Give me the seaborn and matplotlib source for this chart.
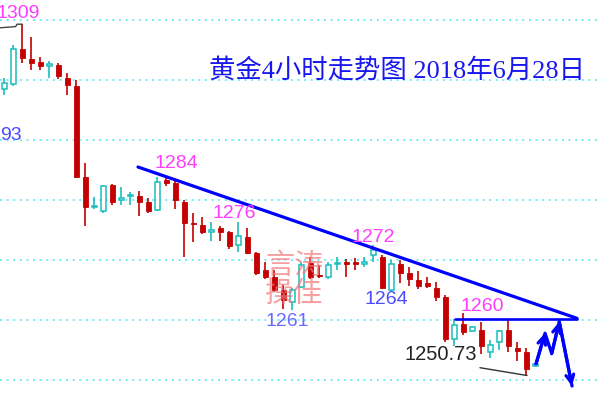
import numpy as np
import pandas as pd
import matplotlib
matplotlib.use("Agg")
import matplotlib.pyplot as plt
import seaborn as sns

# ---------------- data (4h gold candles) ----------------
opens = [1298.5, 1299.3, 1305.2, 1303.5, 1303.0, 1302.4, 1302.5, 1300.3, 1299.0, 1283.8,
         1278.8, 1278.2, 1282.5, 1280.0, 1280.6, 1280.6, 1279.6, 1278.3, 1283.3, 1282.9,
         1279.7, 1276.2, 1275.8, 1274.7, 1275.3, 1274.6, 1272.5, 1273.9, 1271.1, 1268.3,
         1267.2, 1265.0, 1263.0, 1265.5, 1269.5, 1267.5, 1267.2, 1269.3, 1269.7, 1269.6,
         1269.4, 1270.8, 1270.5, 1265.0, 1269.4, 1267.9, 1266.7, 1266.2, 1265.3, 1263.9,
         1256.9, 1259.4, 1258.1, 1258.4, 1254.7, 1256.4, 1258.4, 1255.3, 1254.7, 1252.4]
closes = [1299.5, 1305.2, 1303.7, 1302.8, 1302.3, 1302.6, 1300.6, 1299.2, 1283.9, 1278.9,
          1279.0, 1282.3, 1279.7, 1280.3, 1280.8, 1279.6, 1278.2, 1283.0, 1282.8, 1280.0,
          1276.2, 1276.0, 1274.6, 1275.0, 1274.6, 1272.3, 1274.0, 1271.1, 1267.8, 1267.2,
          1265.0, 1263.3, 1265.0, 1269.2, 1267.2, 1267.3, 1269.2, 1269.5, 1269.4, 1269.3,
          1269.6, 1271.6, 1265.3, 1269.4, 1267.8, 1266.8, 1265.6, 1265.7, 1263.9, 1256.9,
          1259.2, 1258.0, 1258.9, 1255.6, 1255.9, 1258.1, 1255.6, 1254.9, 1251.8, 1252.6]
highs = [1300.3, 1305.8, 1309.3, 1307.2, 1303.8, 1303.1, 1302.8, 1301.2, 1300.0, 1286.2,
         1280.5, 1282.5, 1282.6, 1282.1, 1281.4, 1281.5, 1280.3, 1283.8, 1283.8, 1283.3,
         1280.0, 1277.8, 1277.1, 1276.4, 1275.7, 1274.9, 1276.4, 1275.3, 1271.4, 1269.7,
         1268.3, 1265.8, 1265.3, 1269.7, 1270.5, 1269.2, 1269.7, 1270.5, 1270.1, 1270.3,
         1270.5, 1272.5, 1270.8, 1270.0, 1270.0, 1268.9, 1268.1, 1267.2, 1266.4, 1264.2,
         1260.1, 1261.1, 1259.0, 1259.7, 1256.7, 1258.4, 1260.1, 1256.4, 1255.3, 1252.8]
lows = [1297.5, 1299.0, 1302.8, 1301.7, 1301.7, 1300.3, 1300.2, 1297.5, 1283.7, 1275.6,
        1278.5, 1277.9, 1279.2, 1279.2, 1279.2, 1277.3, 1277.9, 1278.2, 1282.3, 1278.5,
        1270.5, 1273.0, 1274.3, 1273.2, 1273.2, 1271.9, 1271.4, 1271.0, 1267.5, 1266.8,
        1264.7, 1261.9, 1261.7, 1265.3, 1266.8, 1267.0, 1266.8, 1268.3, 1267.2, 1268.3,
        1268.8, 1269.7, 1265.1, 1264.7, 1266.1, 1265.7, 1265.1, 1265.4, 1263.1, 1256.4,
        1255.6, 1257.5, 1258.0, 1254.4, 1253.6, 1255.0, 1254.7, 1253.1, 1250.73, 1252.2]

grid_levels = [1310, 1300, 1290, 1280, 1270, 1260, 1250]

# price labels: (text, x index, price, colour)
price_labels = [("1309", -0.85, 1311.0, "#ff3cff"),
                ("93", -0.5, 1290.8, "#4b4bff"),
                ("1284", 19.06, 1286.0, "#ff3cff"),
                ("1276", 25.5, 1277.8, "#ff3cff"),
                ("1261", 31.4, 1259.7, "#6a6aff"),
                ("1272", 40.94, 1273.7, "#ff3cff"),
                ("1264", 42.4, 1263.5, "#4b4bff"),
                ("1260", 53.06, 1262.2, "#ff3cff")]
low_label = ("1250.73", 48.5, 1254.3)

title_text = "黄金4小时走势图 2018年6月28日"
watermark_rows = ["言涛", "操佳"]

# drawn analysis lines (x index, price)
trend_x, trend_y = [14.83, 63.61], [1285.5, 1260.28]
flat_x, flat_y = [50.06, 63.61], [1260.2, 1260.2]
lowline_x, lowline_y = [52.83, 58.06], [1252.05, 1250.75]
topline_x, topline_y = [-0.5, 1.24, 1.39, 1.98], [1308.7, 1308.9, 1309.3, 1309.3]
zig_x = [59.06, 60.06, 60.80, 61.64, 63.06]
zig_y = [1252.7, 1257.8, 1254.4, 1259.7, 1249.0]

# ---------------- drawing ----------------
sns.set_style("white")
plt.rcParams["font.family"] = ["Liberation Sans", "Noto Sans CJK SC", "DejaVu Sans"]

RED = "#c40000"
TEAL = "#1cbcbc"
BLUE = "#0000ff"

fig = plt.figure(figsize=(6, 4), dpi=100)
ax = fig.add_axes([0, 0, 1, 1])
ax.set_xlim(-0.5, 66.1667)
ax.set_ylim(1246.667, 1313.333)
ax.axis("off")

for lvl in grid_levels:
    ax.axhline(lvl, color="#70eef5", lw=1.4, ls=(0, (1, 2.4)), zorder=0)

df = pd.DataFrame({"open": opens, "close": closes, "high": highs, "low": lows})
df["idx"] = np.arange(len(df))
df["up"] = df["close"] >= df["open"]
df["bottom"] = df[["open", "close"]].min(axis=1)
df["height"] = (df["close"] - df["open"]).abs().clip(lower=0.15)

wick_colors = [TEAL if u else RED for u in df["up"]]
ax.vlines(df["idx"], df["low"], df["high"], colors=wick_colors, lw=1.2, zorder=2)
up = df[df["up"]]
dn = df[~df["up"]]
ax.bar(up["idx"], up["height"], bottom=up["bottom"], width=0.55,
       facecolor="white", edgecolor=TEAL, lw=1.1, zorder=3)
ax.bar(dn["idx"], dn["height"], bottom=dn["bottom"], width=0.6,
       facecolor=RED, edgecolor=RED, lw=0.6, zorder=3)

# analysis lines
sns.lineplot(x=trend_x, y=trend_y, ax=ax, color=BLUE, lw=2.3, sort=False, estimator=None, zorder=5)
sns.lineplot(x=flat_x, y=flat_y, ax=ax, color=BLUE, lw=1.9, sort=False, estimator=None, zorder=5)
sns.lineplot(x=lowline_x, y=lowline_y, ax=ax, color="#333333", lw=1.0, sort=False, estimator=None, zorder=5)
sns.lineplot(x=topline_x, y=topline_y, ax=ax, color="#444444", lw=1.0, sort=False, estimator=None, zorder=5)
sns.lineplot(x=zig_x, y=zig_y, ax=ax, color=BLUE, lw=2.3, sort=False, estimator=None, zorder=6)
for i in (0, 2, 3):
    ax.annotate("", xy=(zig_x[i + 1], zig_y[i + 1]), xytext=(zig_x[i], zig_y[i]),
                arrowprops=dict(arrowstyle="->", color=BLUE, lw=2.3,
                                mutation_scale=14, shrinkA=0, shrinkB=0), zorder=6)

# labels
for txt, x, y, c in price_labels:
    ax.text(x, y, txt, color=c, fontsize=14, ha="left" if x < 1 else "center",
            va="center", zorder=7)
ax.text(low_label[1], low_label[2], low_label[0], color="#222222", fontsize=14.5,
        ha="center", va="center", zorder=7)

ax.text(43.6, 1301.7, title_text, color="#1818ee", fontsize=19,
        family=["Liberation Serif", "Noto Sans CJK SC"], ha="center", va="center", zorder=7)

ax.text(32.2, 1269.0, watermark_rows[0], color="#f07878", alpha=0.7, fontsize=21,
        family=["Noto Sans CJK SC"], ha="center", va="center", zorder=8)
ax.text(32.2, 1264.3, watermark_rows[1], color="#f07878", alpha=0.7, fontsize=21,
        family=["Noto Sans CJK SC"], ha="center", va="center", zorder=8)

fig.savefig("out.png", dpi=100)
